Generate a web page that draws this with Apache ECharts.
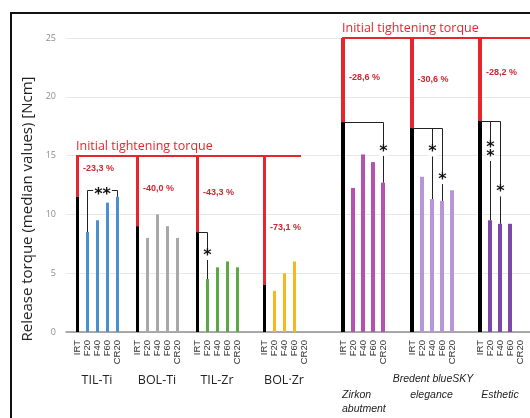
<!DOCTYPE html>
<html>
<head>
<meta charset="utf-8">
<script src="https://cdn.jsdelivr.net/npm/echarts@6/dist/echarts.min.js"></script>
<style>
  html, body { margin: 0; padding: 0; background: #fff; }
  #chart { width: 530px; height: 418px; }
</style>
</head>
<body>
<div id="chart"></div>
<script>
// ---- data ----
const groups = ['TIL-Ti', 'BOL-Ti', 'TIL-Zr', 'BOL·Zr', 'Zirkon\nabutment', 'elegance', 'Esthetic'];
const conditions = ['IRT', 'F20', 'F40', 'F60', 'CR20'];
const yTicks = [0, 5, 10, 15, 20, 25];
const initialTorque = [15, 15, 15, 15, 25, 25, 25];
const irt  = [11.5, 9.0, 8.5, 4.0, 17.85, 17.35, 17.95];
const f20  = [8.5, 8.0, 4.5, 3.5, 12.25, 13.2, 9.5];
const f40  = [9.5, 10.0, 5.5, 5.0, 15.1, 11.3, 9.2];
const f60  = [11.0, 9.0, 6.0, 6.0, 14.45, 11.15, 9.2];
const cr20 = [11.5, 8.0, 5.5, null, 12.7, 12.05, null];
const lossLabels = ['-23,3 %', '-40,0 %', '-43,3 %', '-73,1 %', '-28,6 %', '-30,6 %', '-28,2 %'];
const brandLabel = 'Bredent blueSKY';
const torqueLabel = 'Initial tightening torque';
const yTitle = 'Release torque (median values) [Ncm]';
// significant differences against IRT: [group, condition index, stars]
const sigVsIrt = [[2, 1, '*'], [4, 4, '*'], [5, 2, '*'], [5, 3, '*'], [6, 1, '**'], [6, 2, '*']];
// significant differences between two conditions: [group, from, to, stars]
const sigPair = [[0, 1, 4, '**']];

// ---- layout ----
const X_MIN = -1.1, X_MAX = 45.3;
const slotStart = [0, 6, 12, 18.7, 26.6, 33.45, 40.3];
const groupColors = ['#4a90cc', '#a8a8a8', '#5ca845', '#f5b81e', '#b552b0', '#b895d6', '#7e47a8'];
const barWidth = [3, 3, 3, 3, 4, 4, 4];
const italicGroup = [false, false, false, false, true, true, true];
const lossLabelAt = [13.9, 12.2, 11.9, 8.9, 21.6, 21.5, 22.1];
const starAtVsIrt = [6.85, 15.7, 15.65, 13.3, 15.65, 12.25];
const bracketAtPair = [12.1];
const torqueLines = [{ value: 15, from: 0, to: 22.4 }, { value: 25, from: 26.6, to: X_MAX }];
const RED = '#e5262f';
const LABEL_RED = '#c52a30';
const series = [f20, f40, f60, cr20];

function barRect(api, x, v0, v1, w, fill) {
  const a = api.coord([x, v0]);
  const b = api.coord([x, v1]);
  const left = Math.round(a[0] - w / 2);
  return { type: 'rect', shape: { x: left, y: b[1], width: w, height: a[1] - b[1] }, style: { fill } };
}

function renderGroup(params, api) {
  const g = api.value(0);
  const x0 = slotStart[g];
  const w = barWidth[g];
  const children = [];
  children.push(barRect(api, x0, irt[g], initialTorque[g], w, RED));
  children.push(barRect(api, x0, 0, irt[g], w, '#000'));
  series.forEach((arr, i) => {
    if (arr[g] == null) return;
    children.push(barRect(api, x0 + i + 1, 0, arr[g], w, groupColors[g]));
  });
  // condition labels under each slot
  conditions.forEach((c, i) => {
    const p = api.coord([x0 + i, 0]);
    children.push({
      type: 'text', x: Math.round(p[0]) + 0.5, y: p[1] + 8, rotation: Math.PI / 2,
      style: { text: c, align: 'right', verticalAlign: 'middle', fill: '#333', font: '9.5px "Liberation Sans"' }
    });
  });
  // group name
  const gc = api.coord([x0 + 2, 0]);
  if (italicGroup[g]) {
    const lines = groups[g].split('\n');
    const left = lines.length > 1;
    const lx = left ? api.coord([x0, 0])[0] - 1 : gc[0];
    lines.forEach((t, k) => {
      children.push({
        type: 'text', x: lx, y: 395 + k * 14,
        style: { text: t, align: left ? 'left' : 'center', verticalAlign: 'middle', fill: '#222', font: 'italic 10.5px "Liberation Sans"' }
      });
    });
  } else {
    children.push({
      type: 'text', x: gc[0], y: 380,
      style: { text: groups[g], align: 'center', verticalAlign: 'middle', fill: '#222', font: '12.5px "Open Sans"' }
    });
  }
  // percentage loss label
  const lp = api.coord([x0, lossLabelAt[g]]);
  children.push({
    type: 'text', x: lp[0] + 6, y: lp[1],
    style: { text: lossLabels[g], align: 'left', verticalAlign: 'middle', fill: LABEL_RED, font: 'bold 9px "Liberation Sans"' }
  });
  return { type: 'group', children };
}

function starText(x, y, stars, vertical) {
  const txt = vertical ? stars.split('').join('\n') : stars;
  return {
    type: 'text', x, y,
    style: {
      text: txt, align: 'center', verticalAlign: 'middle', fill: '#111',
      font: 'bold 16px "DejaVu Sans"', lineHeight: 9,
      backgroundColor: '#fff', padding: vertical ? [0, 0, 0, 0] : [0, 1, 0, 1]
    }
  };
}

function line(x1, y1, x2, y2) {
  return { type: 'line', shape: { x1, y1, x2, y2 }, style: { stroke: '#222', lineWidth: 1 } };
}

function renderSig(params, api) {
  const children = [];
  // comparisons against IRT
  const byGroup = {};
  sigVsIrt.forEach((s, k) => { (byGroup[s[0]] = byGroup[s[0]] || []).push([s, k]); });
  Object.keys(byGroup).forEach(key => {
    const g = +key;
    const x0 = slotStart[g];
    const items = byGroup[key];
    const maxC = Math.max(...items.map(it => it[0][1]));
    const top = api.coord([x0, irt[g]]);
    const end = api.coord([x0 + maxC, irt[g]]);
    const ty = Math.round(top[1]) + 0.5;
    children.push(line(Math.round(top[0]), ty, Math.round(end[0]) + 0.5, ty));
    items.forEach(([s, k]) => {
      const c = s[1];
      const vals = series[c - 1];
      const b = api.coord([x0 + c, vals[g]]);
      const xx = Math.round(b[0]) + 0.5;
      children.push(line(xx, ty, xx, b[1]));
      const st = api.coord([x0 + c, starAtVsIrt[k]]);
      children.push(starText(xx, st[1] + 4, s[2], true));
    });
  });
  // comparisons between two conditions
  sigPair.forEach((s, k) => {
    const [g, c1, c2, stars] = s;
    const x0 = slotStart[g];
    const a = api.coord([x0 + c1, series[c1 - 1][g]]);
    const b = api.coord([x0 + c2, series[c2 - 1][g]]);
    const h = api.coord([x0, bracketAtPair[k]]);
    const xa = Math.round(a[0]) + 0.5, xb = Math.round(b[0]) + 0.5, hy = Math.round(h[1]) + 0.5;
    children.push(line(xa, a[1], xa, hy));
    children.push(line(xa, hy, xb, hy));
    children.push(line(xb, hy, xb, b[1]));
    children.push(starText((xa + xb) / 2, hy + 4, stars, false));
  });
  // initial tightening torque reference lines
  torqueLines.forEach(t => {
    const a = api.coord([t.from, t.value]);
    const b = api.coord([t.to, t.value]);
    const left = Math.round(a[0] - 1.5);
    children.push({ type: 'rect', shape: { x: left, y: Math.round(a[1]) - 1, width: b[0] - left, height: 2 }, style: { fill: RED } });
    children.push({
      type: 'text', x: left, y: a[1] - 3,
      style: { text: torqueLabel, align: 'left', verticalAlign: 'bottom', fill: RED, font: '12.5px "Open Sans"' }
    });
  });
  return { type: 'group', children };
}

const chart = echarts.init(document.getElementById('chart'), null, { renderer: 'canvas' });
chart.setOption({
  animation: false,
  backgroundColor: '#fff',
  grid: { left: 66, right: 0, top: 38, bottom: 86 },
  xAxis: {
    type: 'value', min: X_MIN, max: X_MAX,
    axisLine: { show: true, lineStyle: { color: '#8f8f8f', width: 1.5 } },
    axisTick: { show: false }, axisLabel: { show: false }, splitLine: { show: false }
  },
  yAxis: {
    type: 'value', min: yTicks[0], max: yTicks[yTicks.length - 1], interval: yTicks[1] - yTicks[0],
    axisLine: { show: false }, axisTick: { show: false },
    axisLabel: { color: '#8c8c8c', fontSize: 9, margin: 10, fontFamily: 'Open Sans' },
    splitLine: { lineStyle: { color: '#e8e8e8', width: 1 } }
  },
  graphic: [
    { type: 'rect', shape: { x: 11, y: 13, width: 600, height: 500 }, style: { fill: 'none', stroke: '#111', lineWidth: 2 }, z: 10 },
    {
      type: 'text', x: 28, y: 209, rotation: Math.PI / 2,
      style: { text: yTitle, align: 'center', verticalAlign: 'middle', fill: '#222', font: '15px "Open Sans"' }
    },
    {
      type: 'text', x: 433, y: 379,
      style: { text: brandLabel, align: 'center', verticalAlign: 'middle', fill: '#222', font: 'italic 10.5px "Liberation Sans"' }
    }
  ],
  series: [
    { type: 'custom', clip: false, renderItem: renderGroup, data: groups.map((_, i) => [i]), z: 2 },
    { type: 'custom', clip: false, renderItem: renderSig, data: [[0]], z: 3 }
  ]
});
</script>
</body>
</html>
